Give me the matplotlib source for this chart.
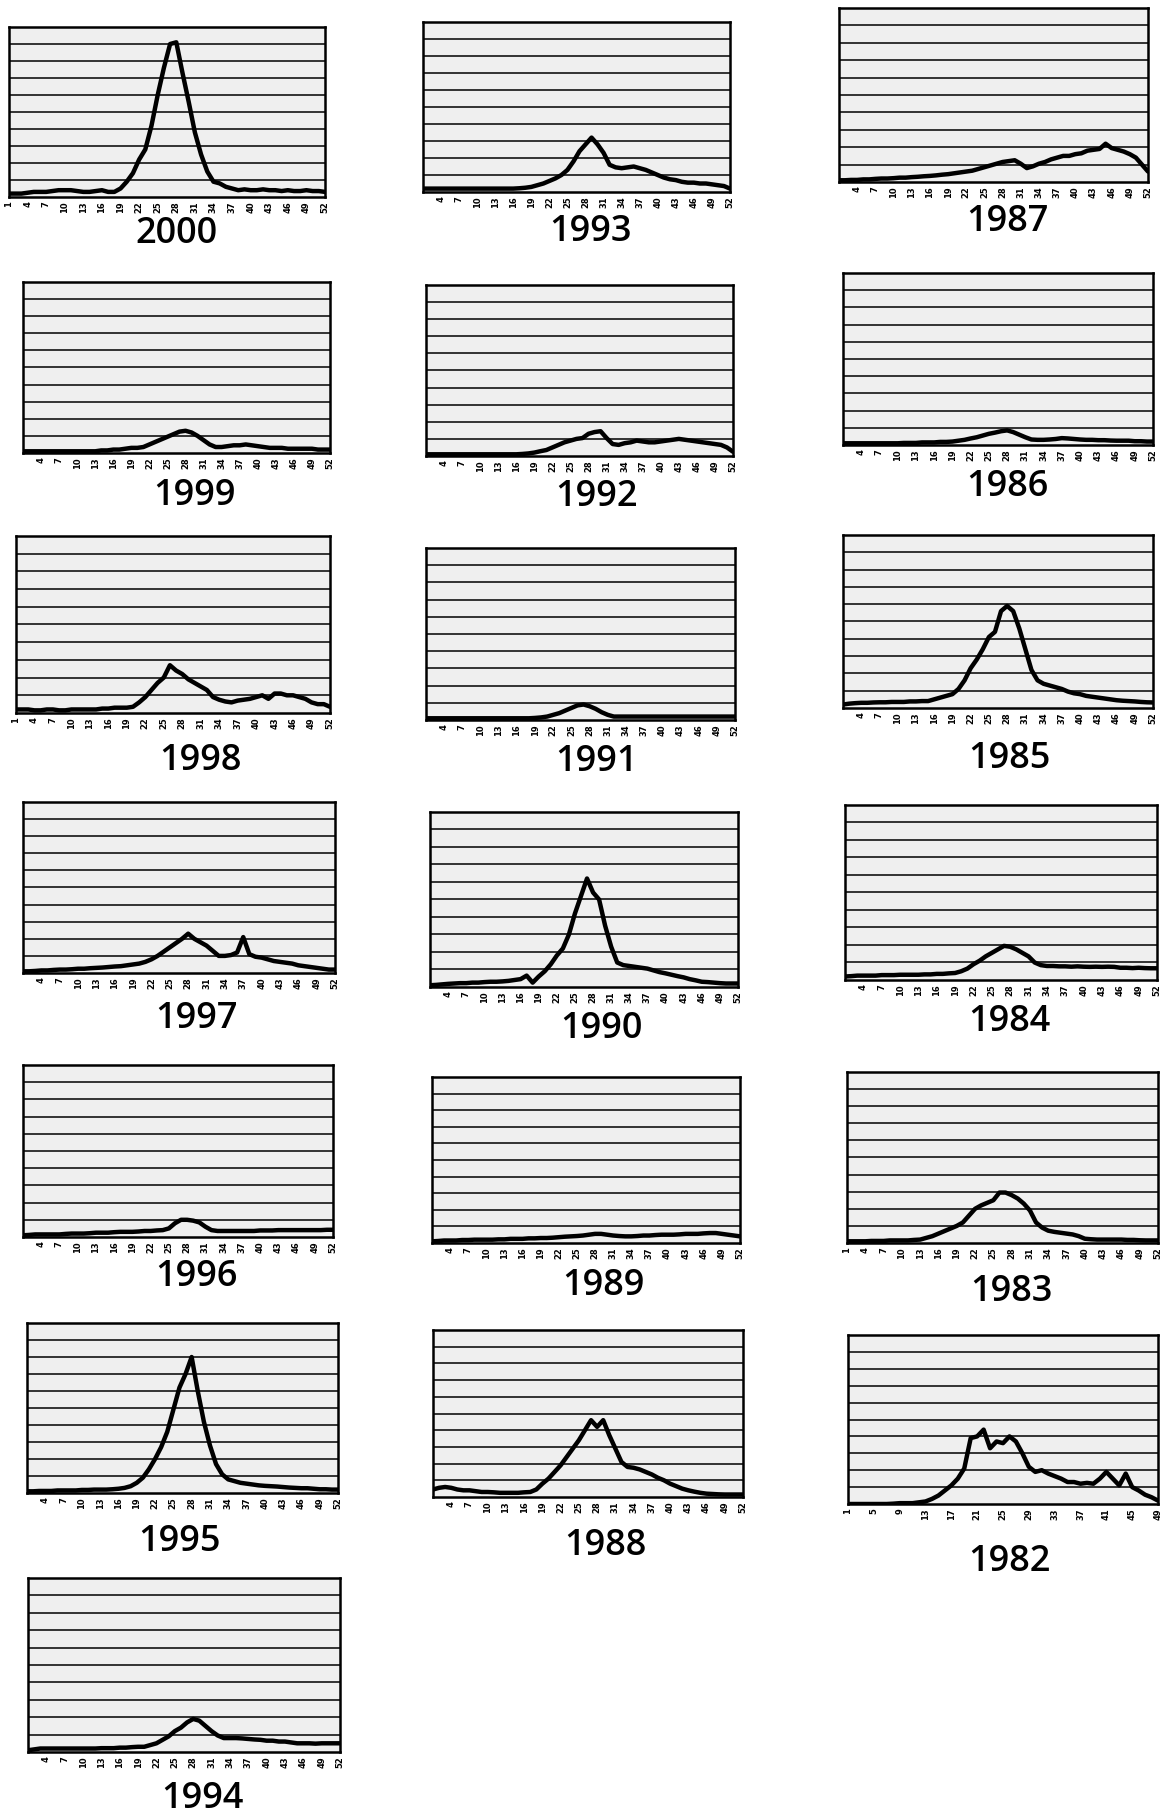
import numpy as np
from matplotlib import pyplot as plt

# weekly values (in gridline units, 0-10)
weeks = np.arange(1, 53)
weeks_1982 = np.arange(1, 50)

y2000 = [0.2, 0.2, 0.2, 0.25, 0.3, 0.3, 0.3, 0.35, 0.4, 0.4,
         0.4, 0.35, 0.3, 0.3, 0.35, 0.4, 0.3, 0.3, 0.5, 0.9,
         1.4, 2.2, 2.8, 4.2, 6.0, 7.6, 9.0, 9.1, 7.3, 5.6,
         3.8, 2.5, 1.5, 0.9, 0.8, 0.6, 0.5, 0.4, 0.45, 0.4,
         0.4, 0.45, 0.4, 0.4, 0.35, 0.4, 0.35, 0.35, 0.4, 0.35, 0.35, 0.3]
y1999 = [0.1] * 13 + [0.15, 0.15, 0.2, 0.2, 0.25, 0.3, 0.3,
         0.35, 0.5, 0.65, 0.8, 0.95, 1.1, 1.25, 1.3, 1.2, 1.0,
         0.75, 0.5, 0.35, 0.35, 0.4, 0.45, 0.45, 0.5, 0.45, 0.4,
         0.35, 0.3, 0.3, 0.3, 0.25, 0.25, 0.25, 0.25, 0.25, 0.2, 0.2, 0.2]
y1998 = [0.2, 0.2, 0.2, 0.15, 0.15, 0.2, 0.2, 0.15, 0.15, 0.2,
         0.2, 0.2, 0.2, 0.2, 0.25, 0.25, 0.3, 0.3, 0.3, 0.35,
         0.6, 0.9, 1.3, 1.7, 2.0, 2.7, 2.4, 2.2, 1.9, 1.7,
         1.5, 1.3, 0.9, 0.75, 0.65, 0.6, 0.7, 0.75, 0.8, 0.9,
         1.0, 0.8, 1.1, 1.1, 1.0, 1.0, 0.9, 0.8, 0.6, 0.5, 0.5, 0.35]
y1997 = [0.1, 0.1, 0.12, 0.15, 0.15, 0.18, 0.2, 0.2, 0.22, 0.25,
         0.25, 0.28, 0.3, 0.32, 0.35, 0.38, 0.4, 0.45, 0.5, 0.55,
         0.65, 0.8, 1.0, 1.25, 1.5, 1.75, 2.0, 2.3, 2.0, 1.8,
         1.6, 1.3, 1.0, 1.0, 1.05, 1.2, 2.1, 1.1, 0.95, 0.9,
         0.8, 0.7, 0.65, 0.6, 0.55, 0.45, 0.4, 0.35, 0.3, 0.25, 0.2, 0.2]
y1996 = [0.1, 0.12, 0.15, 0.15, 0.15, 0.15, 0.15, 0.18, 0.2, 0.2,
         0.2, 0.22, 0.25, 0.25, 0.25, 0.28, 0.3, 0.3, 0.3, 0.32,
         0.35, 0.35, 0.38, 0.4, 0.5, 0.8, 1.0, 1.0, 0.95, 0.85,
         0.6, 0.4, 0.35, 0.35, 0.35, 0.35, 0.35, 0.35, 0.35, 0.38,
         0.38, 0.38, 0.4, 0.4, 0.4, 0.4, 0.4, 0.4, 0.4, 0.4, 0.42, 0.42]
y1995 = [0.1, 0.1, 0.12, 0.12, 0.12, 0.15, 0.15, 0.15, 0.15, 0.18,
         0.18, 0.2, 0.2, 0.2, 0.22, 0.25, 0.3, 0.4, 0.6, 0.9,
         1.4, 2.0, 2.7, 3.6, 4.9, 6.2, 7.0, 8.0, 6.0, 4.2,
         2.8, 1.7, 1.1, 0.8, 0.7, 0.6, 0.55, 0.5, 0.45, 0.42,
         0.4, 0.38, 0.35, 0.32, 0.3, 0.28, 0.28, 0.25, 0.22, 0.22, 0.2, 0.2]
y1994 = [0.1, 0.15, 0.2, 0.2, 0.2, 0.2, 0.2, 0.2, 0.2, 0.2,
         0.2, 0.2, 0.22, 0.22, 0.22, 0.25, 0.25, 0.28, 0.3, 0.3,
         0.4, 0.5, 0.7, 0.9, 1.2, 1.4, 1.7, 1.9, 1.8, 1.5,
         1.2, 0.95, 0.8, 0.8, 0.8, 0.78, 0.75, 0.72, 0.7, 0.65,
         0.65, 0.6, 0.6, 0.55, 0.5, 0.5, 0.5, 0.48, 0.5, 0.5, 0.5, 0.5]
y1993 = [0.2] * 16 + [0.22, 0.25, 0.3, 0.4,
         0.5, 0.65, 0.8, 1.0, 1.3, 1.8, 2.4, 2.8, 3.2, 2.8,
         2.3, 1.6, 1.45, 1.4, 1.45, 1.5, 1.4, 1.3, 1.15, 1.0,
         0.85, 0.75, 0.7, 0.6, 0.55, 0.55, 0.5, 0.5, 0.45, 0.4, 0.35, 0.2]
y1992 = [0.1] * 16 + [0.12, 0.15, 0.2, 0.28,
         0.35, 0.5, 0.65, 0.8, 0.9, 1.0, 1.05, 1.3, 1.4, 1.45,
         1.05, 0.7, 0.65, 0.75, 0.8, 0.9, 0.85, 0.8, 0.8, 0.85,
         0.9, 0.95, 1.0, 0.95, 0.9, 0.85, 0.8, 0.75, 0.7, 0.65, 0.5, 0.25]
y1991 = [0.1] * 18 + [0.12, 0.15,
         0.2, 0.3, 0.4, 0.55, 0.7, 0.85, 0.9, 0.8, 0.65, 0.45,
         0.3, 0.2] + [0.2] * 20
y1990 = [0.1, 0.12, 0.15, 0.18, 0.2, 0.22, 0.22, 0.25, 0.25, 0.28,
         0.3, 0.3, 0.32, 0.35, 0.4, 0.45, 0.65, 0.25, 0.6, 0.9,
         1.3, 1.8, 2.2, 3.0, 4.2, 5.2, 6.2, 5.4, 5.0, 3.5,
         2.3, 1.4, 1.25, 1.2, 1.15, 1.1, 1.05, 0.95, 0.85, 0.78,
         0.7, 0.62, 0.55, 0.45, 0.38, 0.3, 0.28, 0.25, 0.22, 0.2, 0.2, 0.2]
y1989 = [0.1, 0.12, 0.15, 0.15, 0.15, 0.18, 0.18, 0.2, 0.2, 0.2,
         0.2, 0.22, 0.22, 0.25, 0.25, 0.25, 0.28, 0.28, 0.3, 0.3,
         0.32, 0.35, 0.38, 0.4, 0.42, 0.45, 0.5, 0.55, 0.55, 0.5,
         0.45, 0.42, 0.4, 0.4, 0.42, 0.45, 0.45, 0.48, 0.5, 0.5,
         0.5, 0.52, 0.55, 0.55, 0.55, 0.58, 0.6, 0.6, 0.55, 0.5, 0.45, 0.4]
y1988 = [0.45, 0.55, 0.6, 0.55, 0.45, 0.4, 0.4, 0.35, 0.3, 0.3,
         0.28, 0.25, 0.25, 0.25, 0.25, 0.28, 0.3, 0.45, 0.8, 1.1,
         1.5, 1.9, 2.4, 2.9, 3.4, 4.0, 4.6, 4.2, 4.6, 3.7,
         2.9, 2.1, 1.8, 1.75, 1.65, 1.5, 1.35, 1.15, 1.0, 0.8,
         0.65, 0.5, 0.4, 0.32, 0.25, 0.2, 0.18, 0.16, 0.15, 0.15, 0.15, 0.15]
y1987 = [0.1, 0.1, 0.12, 0.12, 0.15, 0.15, 0.18, 0.2, 0.2, 0.22,
         0.25, 0.25, 0.28, 0.3, 0.33, 0.35, 0.38, 0.42, 0.45, 0.5,
         0.55, 0.6, 0.65, 0.75, 0.85, 0.95, 1.05, 1.15, 1.2, 1.25,
         1.05, 0.8, 0.9, 1.05, 1.15, 1.3, 1.4, 1.5, 1.5, 1.6,
         1.65, 1.8, 1.85, 1.9, 2.2, 1.95, 1.85, 1.75, 1.6, 1.4, 1.0, 0.6]
y1986 = [0.1] * 10 + [0.12, 0.12, 0.12, 0.15, 0.15, 0.15, 0.18, 0.18, 0.2, 0.25,
         0.3, 0.38, 0.45, 0.55, 0.65, 0.72, 0.8, 0.85, 0.75, 0.6,
         0.45, 0.32, 0.3, 0.3, 0.32, 0.35, 0.4, 0.38, 0.35, 0.32,
         0.3, 0.3, 0.28, 0.28, 0.26, 0.25, 0.25, 0.25, 0.22, 0.22, 0.2, 0.2]
y1985 = [0.2, 0.25, 0.28, 0.3, 0.3, 0.32, 0.33, 0.33, 0.35, 0.35,
         0.35, 0.38, 0.38, 0.4, 0.4, 0.5, 0.6, 0.7, 0.8, 1.1,
         1.6, 2.3, 2.8, 3.4, 4.1, 4.4, 5.6, 5.9, 5.6, 4.6,
         3.4, 2.2, 1.6, 1.4, 1.3, 1.2, 1.1, 0.95, 0.85, 0.8,
         0.7, 0.65, 0.6, 0.55, 0.5, 0.45, 0.42, 0.4, 0.38, 0.35, 0.33, 0.32]
y1984 = [0.2, 0.22, 0.25, 0.25, 0.25, 0.25, 0.28, 0.28, 0.28, 0.3,
         0.3, 0.3, 0.3, 0.32, 0.32, 0.35, 0.35, 0.38, 0.4, 0.5,
         0.65, 0.9, 1.1, 1.35, 1.55, 1.75, 1.95, 1.9, 1.75, 1.55,
         1.35, 1.0, 0.85, 0.8, 0.8, 0.78, 0.78, 0.76, 0.78, 0.76,
         0.75, 0.76, 0.75, 0.76, 0.75, 0.7, 0.7, 0.68, 0.7, 0.68, 0.67, 0.67]
y1983 = [0.1, 0.1, 0.1, 0.1, 0.12, 0.12, 0.12, 0.15, 0.15, 0.15,
         0.15, 0.18, 0.2, 0.3, 0.4, 0.55, 0.7, 0.85, 1.0, 1.2,
         1.6, 2.0, 2.2, 2.35, 2.5, 2.95, 2.95, 2.8, 2.6, 2.3,
         1.9, 1.2, 0.9, 0.72, 0.65, 0.6, 0.55, 0.5, 0.4, 0.25,
         0.22, 0.2, 0.2, 0.2, 0.2, 0.2, 0.18, 0.18, 0.16, 0.15, 0.15, 0.15]
y1982 = [0, 0, 0, 0, 0, 0, 0, 0.02, 0.05, 0.05,
         0.05, 0.1, 0.15, 0.3, 0.5, 0.8, 1.1, 1.5, 2.1, 3.9,
         4.0, 4.4, 3.3, 3.7, 3.6, 4.0, 3.7, 3.0, 2.2, 1.9,
         2.0, 1.8, 1.65, 1.5, 1.3, 1.3, 1.2, 1.25, 1.2, 1.5,
         1.9, 1.5, 1.1, 1.8, 1.0, 0.8, 0.55, 0.4, 0.2]

ticks_from1 = list(range(1, 53, 3))
ticks_from4 = list(range(4, 53, 3))
ticks_1982 = list(range(1, 50, 4))

# year, x, y, ticks, axes box in pixels (left, top, right, bottom), label centre
panels = [
    (2000, weeks, y2000, ticks_from1, (9, 27, 325, 197), (176, 234)),
    (1999, weeks, y1999, ticks_from4, (23, 282, 330, 453), (195, 496)),
    (1998, weeks, y1998, ticks_from1, (16, 536, 330, 713), (200, 761)),
    (1997, weeks, y1997, ticks_from4, (23, 802, 335, 973), (197, 1019)),
    (1996, weeks, y1996, ticks_from4, (23, 1065, 333, 1237), (197, 1277)),
    (1995, weeks, y1995, ticks_from4, (27, 1323, 338, 1493), (180, 1542)),
    (1994, weeks, y1994, ticks_from4, (28, 1578, 340, 1752), (202, 1799)),
    (1993, weeks, y1993, ticks_from4, (423, 22, 730, 192), (591, 232)),
    (1992, weeks, y1992, ticks_from4, (426, 285, 733, 456), (597, 497)),
    (1991, weeks, y1991, ticks_from4, (426, 548, 735, 720), (597, 762)),
    (1990, weeks, y1990, ticks_from4, (430, 812, 738, 987), (601, 1029)),
    (1989, weeks, y1989, ticks_from4, (432, 1077, 740, 1243), (603, 1286)),
    (1988, weeks, y1988, ticks_from4, (433, 1330, 743, 1497), (605, 1546)),
    (1987, weeks, y1987, ticks_from4, (839, 8, 1148, 182), (1007, 222)),
    (1986, weeks, y1986, ticks_from4, (843, 273, 1153, 445), (1007, 487)),
    (1985, weeks, y1985, ticks_from4, (843, 535, 1153, 708), (1009, 759)),
    (1984, weeks, y1984, ticks_from4, (845, 805, 1157, 980), (1009, 1022)),
    (1983, weeks, y1983, ticks_from1, (847, 1072, 1158, 1243), (1011, 1292)),
    (1982, weeks_1982, y1982, ticks_1982, (848, 1335, 1158, 1504), (1009, 1562)),
]

W, H = 1162, 1819
fig = plt.figure(figsize=(W / 100, H / 100), dpi=100)
fig.patch.set_facecolor('white')

for year, x, y, ticks, box, lab in panels:
    x0, y0, x1, y1 = box
    ax = fig.add_axes([x0 / W, 1 - y1 / H, (x1 - x0) / W, (y1 - y0) / H])
    ax.set_facecolor('#efefef')
    ax.plot(x, y, color='black', lw=3.2, solid_joinstyle='round',
            solid_capstyle='round', zorder=3)
    ax.set_xlim(x[0], x[-1])
    ax.set_ylim(0, 10)
    ax.set_yticks(range(1, 10))
    ax.yaxis.grid(True, color='black', lw=1.1)
    ax.set_yticklabels([])
    ax.tick_params(axis='y', length=0)
    ax.set_xticks(ticks)
    ax.set_xticklabels([str(t) for t in ticks], rotation=90, fontsize=6,
                       fontweight='bold', family='DejaVu Sans')
    ax.tick_params(axis='x', length=0, pad=3)
    for s in ax.spines.values():
        s.set_linewidth(1.8)
        s.set_color('black')
    fig.text(lab[0] / W, 1 - lab[1] / H, str(year), ha='center', va='center',
             fontsize=26, fontweight='semibold', family='Open Sans')

fig.savefig('out.png', dpi=100, facecolor='white')
